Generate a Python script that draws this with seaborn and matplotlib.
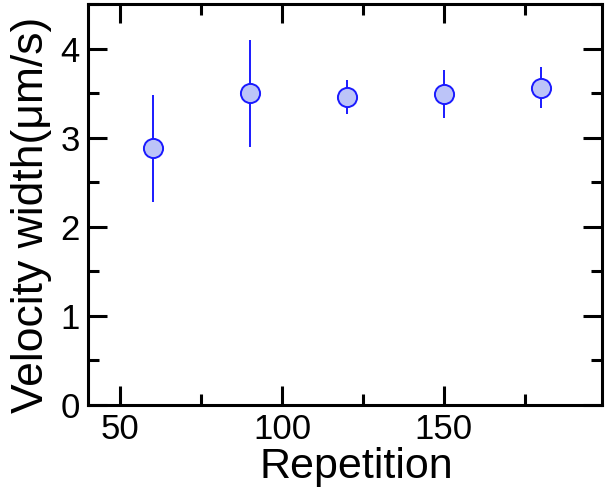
import pandas as pd
import matplotlib
matplotlib.use("Agg")
import matplotlib.pyplot as plt
from matplotlib.ticker import MultipleLocator
import seaborn as sns

repetition = [60, 90, 120, 150, 180]
velocity_width = [2.88, 3.50, 3.46, 3.49, 3.56]
width_err = [0.60, 0.60, 0.19, 0.27, 0.23]

df = pd.DataFrame({"Repetition": repetition,
                   "Width": velocity_width,
                   "Err": width_err})

sns.set_style("ticks")
plt.rcParams['font.family'] = ['Liberation Sans', 'DejaVu Sans']
plt.rcParams['text.color'] = 'black'
plt.rcParams['axes.labelcolor'] = 'black'
plt.rcParams['xtick.color'] = 'black'
plt.rcParams['ytick.color'] = 'black'

fig = plt.figure(figsize=(6.05, 4.96), dpi=100)
ax = fig.add_axes([0.1455, 0.1835, 0.850, 0.8085])

edge = "#1a1aff"
face = "#bcc4f8"
ax.errorbar(df["Repetition"], df["Width"], yerr=df["Err"], fmt="none",
            ecolor=edge, elinewidth=1.4, capsize=0, zorder=2)
sns.scatterplot(data=df, x="Repetition", y="Width", ax=ax, s=190,
                color=face, edgecolor=edge, linewidth=1.4, zorder=3,
                legend=False)

ax.set_xlim(40, 199)
ax.set_ylim(0, 4.5)
ax.xaxis.set_major_locator(MultipleLocator(50))
ax.xaxis.set_minor_locator(MultipleLocator(25))
ax.yaxis.set_major_locator(MultipleLocator(1))
ax.yaxis.set_minor_locator(MultipleLocator(0.5))
ax.tick_params(which="both", direction="in", top=True, right=True,
               width=2.2, color="black", labelsize=25, pad=6)
ax.tick_params(which="major", length=14)
ax.tick_params(which="minor", length=8)
for s in ax.spines.values():
    s.set_linewidth(2.2)
    s.set_color("black")

ax.set_xlabel("Repetition", fontsize=31)
ax.set_ylabel("Velocity width(\u03bcm/s)", fontsize=32)
ax.xaxis.set_label_coords(0.521, -0.105)
ax.yaxis.set_label_coords(-0.07, 0.475)

fig.savefig("out.png", dpi=100)
